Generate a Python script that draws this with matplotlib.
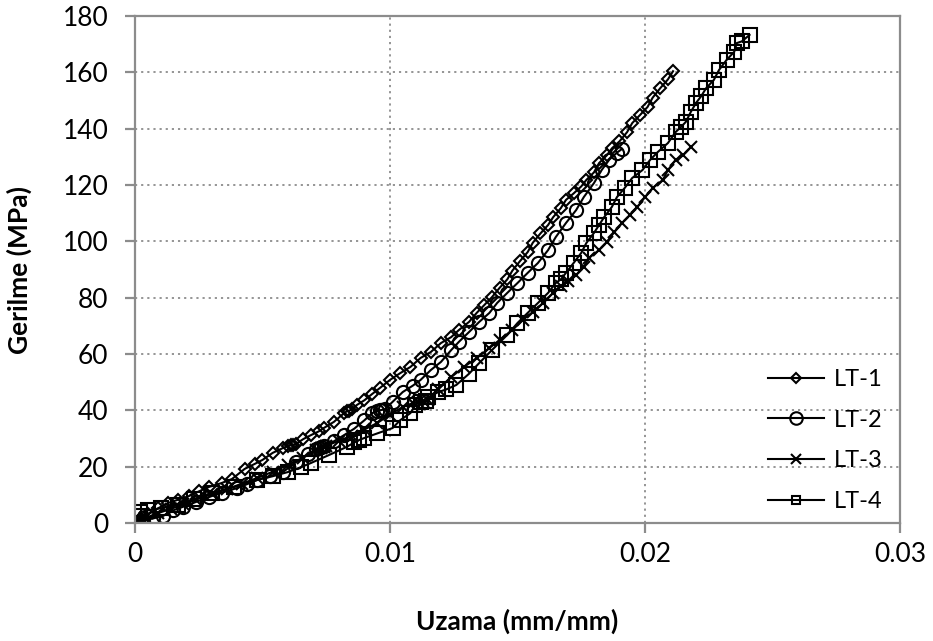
import numpy as np
import matplotlib
matplotlib.use("Agg")
import matplotlib.pyplot as plt
from matplotlib.lines import Line2D

plt.rcParams['font.family'] = ['Lato', 'DejaVu Sans']

# LT-1 (diamonds)
lt1_strain = [0, 0.0001, 0.0002, 0.0005, 0.0009, 0.0013, 0.0017, 0.0021, 0.0025, 0.0029,
              0.0034, 0.0038, 0.0043, 0.0047, 0.0050, 0.0054, 0.0058, 0.0060, 0.0061, 0.0062,
              0.0063, 0.0066, 0.0069, 0.0072, 0.0074, 0.0078, 0.0082, 0.0083, 0.0084, 0.0085,
              0.0087, 0.0090, 0.0093, 0.0096, 0.0100, 0.0104, 0.0108, 0.0112, 0.0116, 0.0120,
              0.0124, 0.0127, 0.0131, 0.0134, 0.0137, 0.0140, 0.0143, 0.0146, 0.0148, 0.0151,
              0.0154, 0.0156, 0.0159, 0.0162, 0.0164, 0.0167, 0.0169, 0.0172, 0.0175, 0.0177,
              0.0180, 0.0182, 0.0185, 0.0187, 0.0190, 0.0193, 0.0195, 0.0198, 0.0201, 0.0203,
              0.0206, 0.0209, 0.0211]
lt1_stress = [0, 0.5, 1.5, 3.2, 5.2, 7.1, 8.3, 9.5, 11.2, 12.8,
              14.2, 15.6, 19.2, 21.0, 22.4, 24.9, 26.6, 27.4, 27.6, 27.8,
              28.0, 29.8, 31.2, 32.5, 33.7, 35.9, 39.0, 39.6, 39.9, 40.3,
              41.9, 43.6, 45.8, 47.9, 50.8, 53.2, 55.4, 58.6, 60.7, 63.9,
              66.0, 68.5, 71.4, 74.6, 77.4, 80.2, 83.5, 86.5, 89.6, 93.0,
              96.2, 99.5, 102.8, 105.8, 108.6, 111.8, 114.7, 117.0, 119.5, 121.8,
              124.5, 127.8, 130.5, 133.0, 135.5, 138.8, 142.0, 144.8, 147.7, 151.0,
              154.4, 157.5, 160.4]

# LT-2 (circles)
lt2_strain = [0, 0.0001, 0.0003, 0.0007, 0.0011, 0.0015, 0.0019, 0.0024, 0.0029, 0.0034,
              0.0040, 0.0044, 0.0048, 0.0053, 0.0058, 0.0063, 0.0068, 0.0071, 0.0072, 0.0073,
              0.0074, 0.0078, 0.0082, 0.0086, 0.0090, 0.0093, 0.0095, 0.0096, 0.0097, 0.0098,
              0.0101, 0.0105, 0.0109, 0.0112, 0.0116, 0.0120, 0.0124, 0.0127, 0.0131, 0.0135,
              0.0139, 0.0142, 0.0146, 0.0150, 0.0154, 0.0158, 0.0162, 0.0165, 0.0169, 0.0173,
              0.0176, 0.0180, 0.0183, 0.0186, 0.0189, 0.0191]
lt2_stress = [0, 0.3, 0.8, 1.6, 2.5, 4.5, 5.8, 7.5, 9.2, 10.8,
              12.4, 13.8, 15.3, 16.7, 18.1, 21.5, 24.5, 26.4, 26.8, 27.1,
              27.3, 29.0, 31.2, 33.5, 36.5, 39.0, 39.7, 40.0, 40.2, 40.4,
              43.0, 46.5, 48.8, 50.8, 54.3, 57.2, 61.4, 64.3, 67.8, 71.4,
              74.6, 78.1, 81.7, 85.2, 88.8, 92.3, 96.9, 101.5, 106.5, 111.1,
              115.7, 120.7, 125.3, 129.0, 131.5, 132.8]

# LT-3 (crosses)
lt3_strain = [0, 0.0001, 0.0004, 0.0009, 0.0014, 0.0019, 0.0024, 0.0030, 0.0036, 0.0042,
              0.0048, 0.0054, 0.0060, 0.0066, 0.0071, 0.0073, 0.0074, 0.0075, 0.0080, 0.0085,
              0.0090, 0.0095, 0.0100, 0.0105, 0.0109, 0.0111, 0.0113, 0.0115, 0.0119, 0.0124,
              0.0129, 0.0134, 0.0139, 0.0143, 0.0148, 0.0152, 0.0156, 0.0160, 0.0164, 0.0167,
              0.0170, 0.0173, 0.0176, 0.0178, 0.0182, 0.0185, 0.0188, 0.0191, 0.0194, 0.0197,
              0.0200, 0.0203, 0.0207, 0.0209, 0.0212, 0.0215, 0.0218]
lt3_stress = [0, 0.5, 1.8, 3.5, 5.0, 6.6, 8.3, 10.2, 12.0, 14.0,
              16.0, 18.2, 20.6, 23.2, 25.8, 26.8, 27.1, 27.4, 29.2, 31.0,
              33.2, 35.5, 38.5, 41.2, 42.6, 43.0, 43.3, 43.6, 47.5, 51.8,
              55.4, 58.6, 62.1, 65.0, 68.5, 72.1, 74.9, 78.1, 81.7, 84.0,
              85.8, 88.0, 90.9, 94.1, 96.9, 99.8, 103.3, 106.5, 109.3, 112.2,
              115.7, 118.9, 121.8, 125.3, 128.9, 130.6, 133.5]

# LT-4 (squares)
lt4_strain = [0, 0.0001, 0.0002, 0.0005, 0.0010, 0.0017, 0.0023, 0.0030, 0.0039, 0.0048,
              0.0054, 0.0060, 0.0065, 0.0069, 0.0076, 0.0083, 0.0086, 0.0088, 0.0090, 0.0095,
              0.0101, 0.0104, 0.0108, 0.0110, 0.0112, 0.0114, 0.0115, 0.0119, 0.0122, 0.0126,
              0.0131, 0.0135, 0.0140, 0.0146, 0.0150, 0.0154, 0.0158, 0.0162, 0.0165, 0.0167,
              0.0169, 0.0172, 0.0175, 0.0177, 0.0180, 0.0182, 0.0184, 0.0187, 0.0189, 0.0192,
              0.0195, 0.0199, 0.0202, 0.0205, 0.0209, 0.0212, 0.0214, 0.0216, 0.0218, 0.0220,
              0.0222, 0.0224, 0.0227, 0.0229, 0.0232, 0.0235, 0.0236, 0.0238, 0.0241]
lt4_stress = [0, 2.5, 3.9, 4.5, 5.2, 6.4, 8.5, 10.7, 12.8, 15.3,
              16.6, 18.1, 19.8, 21.3, 24.1, 27.0, 28.6, 29.5, 30.2, 31.8,
              33.7, 36.5, 39.0, 42.0, 42.8, 43.3, 44.7, 46.5, 47.4, 49.0,
              53.0, 56.8, 61.4, 66.8, 71.0, 74.6, 78.1, 81.7, 85.2, 86.5,
              88.8, 92.3, 95.9, 99.4, 103.0, 105.8, 108.6, 112.2, 115.7, 118.9,
              122.5, 125.3, 128.9, 131.7, 134.9, 138.8, 140.5, 142.4, 146.0, 149.1,
              151.5, 154.4, 157.3, 160.8, 164.4, 167.3, 170.4, 171.0, 173.3]

labels = ['LT-1', 'LT-2', 'LT-3', 'LT-4']
markers = ['D', 'o', 'x', 's']
plot_ms = [6.0, 9.5, 8.5, 9.5]
legend_ms = [5.0, 9.0, 6.5, 6.0]

fig = plt.figure(figsize=(9.33, 6.41), dpi=100)
ax = fig.add_axes([0.1447, 0.1841, 0.8199, 0.7909])

series = [(lt1_strain, lt1_stress), (lt2_strain, lt2_stress),
          (lt3_strain, lt3_stress), (lt4_strain, lt4_stress)]
for (x, y), m, ms in zip(series, markers, plot_ms):
    ax.plot(x, y, color='black', lw=1.5, marker=m, ms=ms,
            mfc='none', mec='black', mew=1.5)

ax.set_xlim(0, 0.03)
ax.set_ylim(0, 180)
ax.set_xticks([0, 0.01, 0.02, 0.03])
ax.set_xticklabels(['0', '0.01', '0.02', '0.03'])
ax.set_yticks(np.arange(0, 181, 20))

ax.grid(True, color='#8c8c8c', linestyle=(0, (1.2, 2.2)), lw=1.3)
ax.set_axisbelow(True)
for s in ax.spines.values():
    s.set_color('#8c8c8c')
    s.set_linewidth(1.6)
ax.tick_params(direction='out', length=7, width=1.6, color='#8c8c8c',
               labelsize=19)
ax.tick_params(axis='x', pad=7)
ax.tick_params(axis='y', pad=12)

ax.set_xlabel('Uzama (mm/mm)', fontsize=19, fontweight='bold', labelpad=30)
ax.set_ylabel('Gerilme (MPa)', fontsize=19, fontweight='bold', labelpad=22)

handles = [Line2D([], [], color='black', lw=1.5, marker=m, ms=ms,
                  mfc='none', mec='black', mew=1.5)
           for m, ms in zip(markers, legend_ms)]
ax.legend(handles, labels, loc='lower right', bbox_to_anchor=(1.005, -0.02),
          frameon=False, fontsize=17, handlelength=2.4, handletextpad=0.4,
          labelspacing=0.83)

fig.savefig('out.png', dpi=100)
